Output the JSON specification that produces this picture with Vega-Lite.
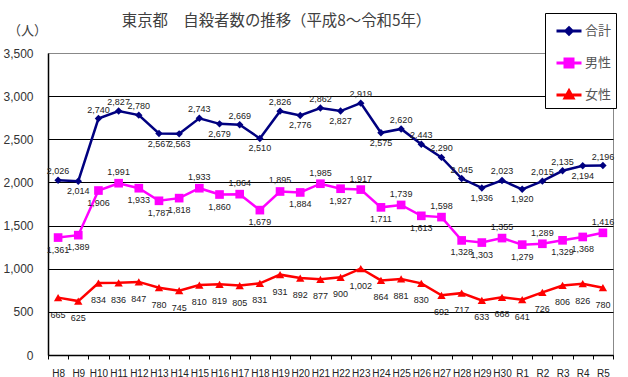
{
  "$schema": "https://vega.github.io/schema/vega-lite/v6.json",
  "autosize": {"type": "none"},
  "padding": {"left": 48, "top": 53, "right": 15, "bottom": 22},
  "width": 565,
  "height": 302,
  "background": "white",
  "title": {"text": "東京都　自殺者数の推移（平成8～令和5年）", "font": "Noto Sans CJK JP", "fontSize": 15.4, "fontWeight": "normal", "color": "#404040", "anchor": "middle", "frame": "group", "dx": -54, "offset": -17},
  "config": {"view": {"stroke": "#888888", "strokeWidth": 1}},
  "data": {"values": [
    {"year":"H8","series":"合計","value":2026},{"year":"H9","series":"合計","value":2014},{"year":"H10","series":"合計","value":2740},{"year":"H11","series":"合計","value":2827},{"year":"H12","series":"合計","value":2780},{"year":"H13","series":"合計","value":2567},{"year":"H14","series":"合計","value":2563},{"year":"H15","series":"合計","value":2743},{"year":"H16","series":"合計","value":2679},{"year":"H17","series":"合計","value":2669},{"year":"H18","series":"合計","value":2510},{"year":"H19","series":"合計","value":2826},{"year":"H20","series":"合計","value":2776},{"year":"H21","series":"合計","value":2862},{"year":"H22","series":"合計","value":2827},{"year":"H23","series":"合計","value":2919},{"year":"H24","series":"合計","value":2575},{"year":"H25","series":"合計","value":2620},{"year":"H26","series":"合計","value":2443},{"year":"H27","series":"合計","value":2290},{"year":"H28","series":"合計","value":2045},{"year":"H29","series":"合計","value":1936},{"year":"H30","series":"合計","value":2023},{"year":"R1","series":"合計","value":1920},{"year":"R2","series":"合計","value":2015},{"year":"R3","series":"合計","value":2135},{"year":"R4","series":"合計","value":2194},{"year":"R5","series":"合計","value":2196},
    {"year":"H8","series":"男性","value":1361},{"year":"H9","series":"男性","value":1389},{"year":"H10","series":"男性","value":1906},{"year":"H11","series":"男性","value":1991},{"year":"H12","series":"男性","value":1933},{"year":"H13","series":"男性","value":1787},{"year":"H14","series":"男性","value":1818},{"year":"H15","series":"男性","value":1933},{"year":"H16","series":"男性","value":1860},{"year":"H17","series":"男性","value":1864},{"year":"H18","series":"男性","value":1679},{"year":"H19","series":"男性","value":1895},{"year":"H20","series":"男性","value":1884},{"year":"H21","series":"男性","value":1985},{"year":"H22","series":"男性","value":1927},{"year":"H23","series":"男性","value":1917},{"year":"H24","series":"男性","value":1711},{"year":"H25","series":"男性","value":1739},{"year":"H26","series":"男性","value":1613},{"year":"H27","series":"男性","value":1598},{"year":"H28","series":"男性","value":1328},{"year":"H29","series":"男性","value":1303},{"year":"H30","series":"男性","value":1355},{"year":"R1","series":"男性","value":1279},{"year":"R2","series":"男性","value":1289},{"year":"R3","series":"男性","value":1329},{"year":"R4","series":"男性","value":1368},{"year":"R5","series":"男性","value":1416},
    {"year":"H8","series":"女性","value":665},{"year":"H9","series":"女性","value":625},{"year":"H10","series":"女性","value":834},{"year":"H11","series":"女性","value":836},{"year":"H12","series":"女性","value":847},{"year":"H13","series":"女性","value":780},{"year":"H14","series":"女性","value":745},{"year":"H15","series":"女性","value":810},{"year":"H16","series":"女性","value":819},{"year":"H17","series":"女性","value":805},{"year":"H18","series":"女性","value":831},{"year":"H19","series":"女性","value":931},{"year":"H20","series":"女性","value":892},{"year":"H21","series":"女性","value":877},{"year":"H22","series":"女性","value":900},{"year":"H23","series":"女性","value":1002},{"year":"H24","series":"女性","value":864},{"year":"H25","series":"女性","value":881},{"year":"H26","series":"女性","value":830},{"year":"H27","series":"女性","value":692},{"year":"H28","series":"女性","value":717},{"year":"H29","series":"女性","value":633},{"year":"H30","series":"女性","value":668},{"year":"R1","series":"女性","value":641},{"year":"R2","series":"女性","value":726},{"year":"R3","series":"女性","value":806},{"year":"R4","series":"女性","value":826},{"year":"R5","series":"女性","value":780}
  ]},
  "encoding": {
    "x": {"field": "year", "type": "nominal", "sort": null,
      "scale": {"type": "band", "paddingInner": 0, "paddingOuter": 0},
      "axis": {"title": null, "labelAngle": 0, "labelFont": "Liberation Sans", "labelFontSize": 10, "labelColor": "#222222", "domainColor": "black", "domainWidth": 1.5, "tickColor": "black", "tickSize": 4, "tickBand": "extent", "labelPadding": 9, "grid": false}},
    "y": {"field": "value", "type": "quantitative",
      "scale": {"domain": [0, 3500], "nice": false},
      "axis": {"values": [0,500,1000,1500,2000,2500,3000,3500], "format": ",d", "title": "（人）", "titleAngle": 0, "titleX": -21, "titleY": -23, "titleAlign": "center", "titleBaseline": "middle", "titleFont": "Noto Sans CJK JP", "titleFontSize": 13, "titleFontWeight": "normal", "titleColor": "#404040", "labelFont": "Liberation Sans", "labelFontSize": 12, "labelColor": "#333333", "labelPadding": 15, "ticks": false, "domainColor": "black", "domainWidth": 1.5, "grid": true, "gridColor": {"condition": {"test": "datum.value == 3500", "value": "#888888"}, "value": "black"}, "gridOpacity": 1, "gridWidth": 1}}
  },
  "layer": [
    {"mark": {"type": "line", "strokeWidth": 2.5},
     "encoding": {"color": {"field": "series", "type": "nominal",
       "scale": {"domain": ["合計","男性","女性"], "range": ["#000080","#FF00FF","#FF0000"]},
       "legend": {"orient": "none", "legendX": 497, "legendY": -40, "title": null, "padding": 4, "strokeColor": "black", "fillColor": "white", "symbolSize": 625, "symbolStrokeWidth": 3, "symbolOffset": 6, "labelOffset": 2, "rowPadding": 8, "labelFont": "Noto Sans CJK JP", "labelFontSize": 13, "labelColor": "#555555", "labelExpr": "datum.label + ' '",
         "encoding": {"symbols": {
           "shape": {"value": {"signal": "datum.value == '合計' ? 'M-1,0H1M0,-0.26L0.26,0L0,0.26L-0.26,0Z' : datum.value == '男性' ? 'M-1,0H1M-0.32,-0.32H0.32V0.32H-0.32Z' : 'M-1,0H1M0,-0.34L0.32,0.24H-0.32Z'"}},
           "fill": {"value": {"signal": "scale('color', datum.value)"}},
           "stroke": {"value": {"signal": "scale('color', datum.value)"}},
           "strokeWidth": {"value": 3},
           "fillOpacity": {"value": 1},
           "strokeOpacity": {"value": 1}}}}}}},
    {"transform": [{"filter": {"field": "series", "equal": "合計"}}],
     "mark": {"type": "point", "filled": true, "opacity": 1, "shape": "diamond", "color": "#000080", "size": 55}},
    {"transform": [{"filter": {"field": "series", "equal": "男性"}}],
     "mark": {"type": "point", "filled": true, "opacity": 1, "shape": "square", "color": "#FF00FF", "size": 75}},
    {"transform": [{"filter": {"field": "series", "equal": "女性"}}],
     "mark": {"type": "point", "filled": true, "opacity": 1, "shape": "triangle-up", "color": "#FF0000", "size": 70}},
    {"transform": [{"filter": {"field": "series", "equal": "合計"}}, {"filter": {"field": "year", "oneOf": ["H8","H10","H11","H12","H15","H17","H19","H21","H23","H25","H26","H27","H28","H30","R2","R3","R5"]}}],
     "mark": {"type": "text", "font": "Liberation Sans", "fontSize": 9, "color": "#222222", "dy": -9},
     "encoding": {"text": {"field": "value", "type": "quantitative", "format": ","}}},
    {"transform": [{"filter": {"field": "series", "equal": "合計"}}, {"filter": {"not": {"field": "year", "oneOf": ["H8","H10","H11","H12","H15","H17","H19","H21","H23","H25","H26","H27","H28","H30","R2","R3","R5"]}}}],
     "mark": {"type": "text", "font": "Liberation Sans", "fontSize": 9, "color": "#222222", "dy": 10},
     "encoding": {"text": {"field": "value", "type": "quantitative", "format": ","}}},
    {"transform": [{"filter": {"field": "series", "equal": "男性"}}, {"filter": {"field": "year", "oneOf": ["H11","H15","H17","H19","H21","H23","H25","H27","H30","R2","R5"]}}],
     "mark": {"type": "text", "font": "Liberation Sans", "fontSize": 9, "color": "#222222", "dy": -11},
     "encoding": {"text": {"field": "value", "type": "quantitative", "format": ","}}},
    {"transform": [{"filter": {"field": "series", "equal": "男性"}}, {"filter": {"not": {"field": "year", "oneOf": ["H11","H15","H17","H19","H21","H23","H25","H27","H30","R2","R5"]}}}],
     "mark": {"type": "text", "font": "Liberation Sans", "fontSize": 9, "color": "#222222", "dy": 12},
     "encoding": {"text": {"field": "value", "type": "quantitative", "format": ","}}},
    {"transform": [{"filter": {"field": "series", "equal": "女性"}}],
     "mark": {"type": "text", "font": "Liberation Sans", "fontSize": 9, "color": "#222222", "dy": 17},
     "encoding": {"text": {"field": "value", "type": "quantitative", "format": ","}}}
  ]
}
